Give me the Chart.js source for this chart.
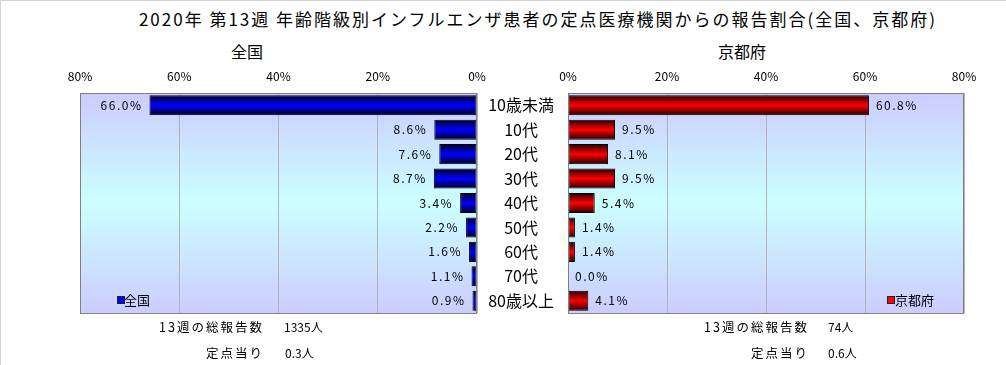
<!DOCTYPE html>
<html>
<head>
<meta charset="utf-8">
<script src="https://cdn.jsdelivr.net/npm/chart.js@4"></script>
<style>
  body { margin: 0; background: #fff; }
  #wrap { position: relative; width: 1006px; height: 365px; overflow: hidden;
          border-top: 1px solid #d4d4d4; border-left: 1px solid #d4d4d4; box-sizing: border-box;
          font-family: "Noto Sans CJK JP", sans-serif; color: #000; }
  .t { position: absolute; white-space: nowrap; line-height: 1; }
  .c { transform: translate(-50%, -50%); }
  .r { transform: translate(-100%, -50%); }
  .l { transform: translate(0, -50%); }
  .sq { position: absolute; width: 6px; height: 6px; border: 1px solid #222; }
  .lbl { font-size: 12.5px; letter-spacing: 2px; }
  canvas { position: absolute; top: 0; }
</style>
</head>
<body>
<div id="wrap">
  <div class="t c" style="left:537px;top:17px;font-size:17px;letter-spacing:2px;">2020年 第13週 年齢階級別インフルエンザ患者の定点医療機関からの報告割合(全国、京都府)</div>
  <div class="t c" style="left:246px;top:50px;font-size:16px;">全国</div>
  <div class="t c" style="left:741px;top:50px;font-size:16px;">京都府</div>

  <canvas id="chartZenkoku" style="left:0px;"></canvas>
  <canvas id="chartKyoto" style="left:476px;"></canvas>

  <div class="sq" style="left:116px;top:295px;background:#0000ff;"></div>
  <div class="t l" style="left:123px;top:298px;font-size:13px;">全国</div>
  <div class="sq" style="left:886px;top:295px;background:#ff0000;"></div>
  <div class="t l" style="left:894px;top:298px;font-size:13px;">京都府</div>

  <div class="t r lbl" style="left:263px;top:326px;" id="lblTotalL"></div>
  <div class="t l" style="left:283px;top:326px;font-size:12px;" id="valTotalL"></div>
  <div class="t r lbl" style="left:263px;top:352px;">定点当り</div>
  <div class="t l" style="left:284px;top:352px;font-size:12px;" id="valPerL"></div>
  <div class="t r lbl" style="left:808px;top:326px;" id="lblTotalR"></div>
  <div class="t l" style="left:827px;top:326px;font-size:12px;" id="valTotalR"></div>
  <div class="t r lbl" style="left:808px;top:352px;">定点当り</div>
  <div class="t l" style="left:827px;top:352px;font-size:12px;" id="valPerR"></div>
</div>
<script>
// 年齢階級
var categorias = ['10歳未満', '10代', '20代', '30代', '40代', '50代', '60代', '70代', '80歳以上'];
// 報告割合 (%)
var zenkoku = [66.0, 8.6, 7.6, 8.7, 3.4, 2.2, 1.6, 1.1, 0.9];
var kyoto = [60.8, 9.5, 8.1, 9.5, 5.4, 1.4, 1.4, 0.0, 4.1];
var ticksPct = [0, 20, 40, 60, 80];
var semana = 13;
var totalZenkoku = 1335;
var totalKyoto = 74;
var porPontoZenkoku = 0.3;
var porPontoKyoto = 0.6;

document.getElementById('lblTotalL').textContent = semana + '週の総報告数';
document.getElementById('lblTotalR').textContent = semana + '週の総報告数';
document.getElementById('valTotalL').textContent = totalZenkoku + '人';
document.getElementById('valTotalR').textContent = totalKyoto + '人';
document.getElementById('valPerL').textContent = porPontoZenkoku.toFixed(1) + '人';
document.getElementById('valPerR').textContent = porPontoKyoto.toFixed(1) + '人';

var BAR_PCT = 0.82;
var LARGURA_EIXO = 91;

function barGradient(cor, escuro) {
    return function(context) {
        let chart = context.chart;
        let yScale = chart.scales.y;
        if (!chart.chartArea || !yScale) return cor;
        let meio = yScale.getPixelForValue(context.dataIndex);
        let h = chart.chartArea.height / categorias.length * BAR_PCT;
        let g = chart.ctx.createLinearGradient(0, meio - h / 2, 0, meio + h / 2);
        g.addColorStop(0, escuro);
        g.addColorStop(0.5, cor);
        g.addColorStop(1, escuro);
        return g;
    };
}

// fundo e moldura da área do gráfico
let fundoPlugin = {
    id: 'fundo',
    beforeDraw(chart) {
        let a = chart.chartArea;
        let ctx = chart.ctx;
        let g = ctx.createLinearGradient(0, a.top, 0, a.bottom);
        g.addColorStop(0, '#ccccff');
        g.addColorStop(0.5, '#ccffff');
        g.addColorStop(1, '#ccccff');
        ctx.save();
        ctx.fillStyle = g;
        ctx.fillRect(a.left, a.top, a.right - a.left, a.bottom - a.top);
        ctx.restore();
    },
    afterDraw(chart) {
        let a = chart.chartArea;
        let ctx = chart.ctx;
        ctx.save();
        ctx.strokeStyle = '#808080';
        ctx.lineWidth = 1;
        ctx.strokeRect(Math.round(a.left) + 0.5, Math.round(a.top) + 0.5,
                       Math.round(a.right - a.left) - 1, Math.round(a.bottom - a.top));
        ctx.restore();
    }
};

// rótulos de valor na ponta das barras
let rotulosPlugin = {
    id: 'rotulos',
    afterDatasetsDraw(chart) {
        let ctx = chart.ctx;
        let meta = chart.getDatasetMeta(0);
        let dados = chart.data.datasets[0].data;
        let esquerda = chart.options.scales.x.reverse;
        ctx.save();
        ctx.font = '12px "Noto Sans CJK JP", sans-serif';
        ctx.letterSpacing = '1.5px';
        ctx.fillStyle = '#000';
        ctx.textBaseline = 'middle';
        meta.data.forEach((bar, i) => {
            let txt = dados[i].toFixed(1) + '%';
            if (esquerda) {
                ctx.textAlign = 'right';
                ctx.fillText(txt, bar.x - 7, bar.y);
            } else {
                ctx.textAlign = 'left';
                ctx.fillText(txt, bar.x + 7, bar.y);
            }
        });
        ctx.restore();
    }
};

function montaConfig(dados, cor, escuro, reverso, yVisivel, padding) {
    return {
        type: 'bar',
        data: {
            labels: categorias,
            datasets: [{
                data: dados,
                backgroundColor: barGradient(cor, escuro),
                borderColor: '#000000',
                borderWidth: 1,
                borderSkipped: false,
                barPercentage: BAR_PCT,
                categoryPercentage: 1.0
            }]
        },
        options: {
            indexAxis: 'y',
            responsive: false,
            animation: false,
            layout: { padding: padding },
            plugins: {
                legend: { display: false },
                tooltip: { enabled: false }
            },
            scales: {
                x: {
                    position: 'top',
                    reverse: reverso,
                    min: ticksPct[0],
                    max: ticksPct[ticksPct.length - 1],
                    afterBuildTicks: (scale) => { scale.ticks = ticksPct.map(v => ({ value: v })); },
                    afterFit: (scale) => { scale.height = 30; },
                    ticks: {
                        callback: (v) => v + '%',
                        color: '#000',
                        padding: 9,
                        maxRotation: 0,
                        font: { family: '"Noto Sans CJK JP", sans-serif', size: 12 }
                    },
                    grid: { color: '#b4b4b4', drawTicks: false },
                    border: { display: false }
                },
                y: {
                    display: yVisivel,
                    position: 'left',
                    afterFit: (scale) => { if (yVisivel) scale.width = LARGURA_EIXO; },
                    ticks: {
                        color: '#000',
                        crossAlign: 'center',
                        padding: 14,
                        font: { family: '"Noto Sans CJK JP", sans-serif', size: 16 }
                    },
                    grid: { display: false, drawTicks: false, tickLength: 0 },
                    border: { display: false }
                }
            }
        },
        plugins: [fundoPlugin, rotulosPlugin]
    };
}

let canvasL = document.getElementById('chartZenkoku');
canvasL.width = 500; canvasL.height = 365;
let canvasR = document.getElementById('chartKyoto');
canvasR.width = 530; canvasR.height = 365;

let graficoZenkoku = new Chart(canvasL,
    montaConfig(zenkoku, '#0000ff', '#000022', true, false, { left: 79, right: 24, top: 62, bottom: 53 }));
let graficoKyoto = new Chart(canvasR,
    montaConfig(kyoto, '#ff0000', '#220000', false, true, { left: 0, right: 43, top: 62, bottom: 53 }));
</script>
</body>
</html>
